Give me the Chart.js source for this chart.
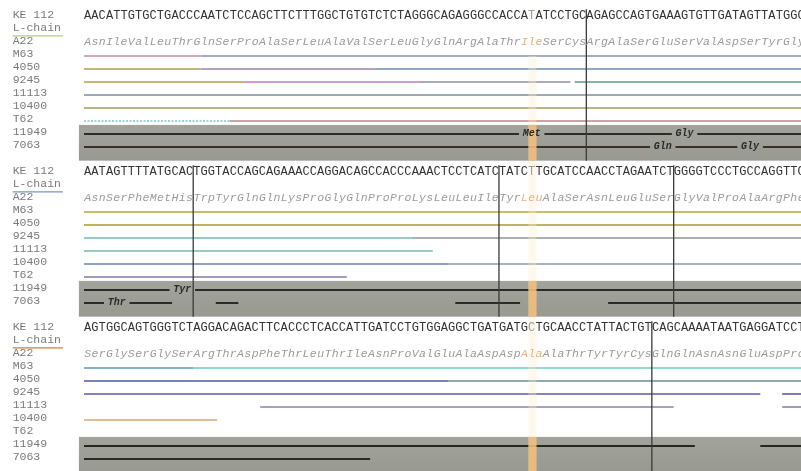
<!DOCTYPE html>
<html><head><meta charset="utf-8">
<script src="https://cdn.jsdelivr.net/npm/chart.js@4"></script>
<style>html,body{margin:0;padding:0;background:#fff}canvas{display:block}</style>
</head><body>
<canvas id="c" width="801" height="471"></canvas>
<script>
// ---------- DATA ----------
const rowNames = ['KE 112','L-chain','A22','M63','4050','9245','11113','10400','T62','11949','7063'];
const lineRows = ['M63','4050','9245','11113','10400','T62','11949','7063'];
const nucleotides = [
  'AACATTGTGCTGACCCAATCTCCAGCTTCTTTGGCTGTGTCTCTAGGGCAGAGGGCCACCATATCCTGCAGAGCCAGTGAAAGTGTTGATAGTTATGGC',
  'AATAGTTTTATGCACTGGTACCAGCAGAAACCAGGACAGCCACCCAAACTCCTCATCTATCTTGCATCCAACCTAGAATCTGGGGTCCCTGCCAGGTTC',
  'AGTGGCAGTGGGTCTAGGACAGACTTCACCCTCACCATTGATCCTGTGGAGGCTGATGATGCTGCAACCTATTACTGTCAGCAAAATAATGAGGATCCT'
];
const aminoAcids = [
  ['Asn','Ile','Val','Leu','Thr','Gln','Ser','Pro','Ala','Ser','Leu','Ala','Val','Ser','Leu','Gly','Gln','Arg','Ala','Thr','Ile','Ser','Cys','Arg','Ala','Ser','Glu','Ser','Val','Asp','Ser','Tyr','Gly'],
  ['Asn','Ser','Phe','Met','His','Trp','Tyr','Gln','Gln','Lys','Pro','Gly','Gln','Pro','Pro','Lys','Leu','Leu','Ile','Tyr','Leu','Ala','Ser','Asn','Leu','Glu','Ser','Gly','Val','Pro','Ala','Arg','Phe'],
  ['Ser','Gly','Ser','Gly','Ser','Arg','Thr','Asp','Phe','Thr','Leu','Thr','Ile','Asn','Pro','Val','Glu','Ala','Asp','Asp','Ala','Ala','Thr','Tyr','Tyr','Cys','Gln','Gln','Asn','Asn','Glu','Asp','Pro']
];
const highlightResidue = 20;        // residue index of the orange column
const highlightBase = 61;           // nucleotide index of the orange column
const blockRowStart = [0, 12, 24];  // first row of each block
// boundaries (nucleotide index) marked by vertical rules
const boundaries = [[69], [15, 57, 81], [78]];
// sequence coverage of each line row, in nucleotide positions
const coverage = [
  [ [[0,99]], [[0,99]], [[0,66.8],[67.4,99]], [[0,99]], [[0,99]], [[0,99]], [[0,99]], [[0,99]] ],
  [ [[0,99]], [[0,99]], [[0,99]], [[0,47.9]], [[0,99]], [[0,36.1]], [[0,99]], [[0,12.1],[18.1,21.2],[51.0,59.9],[72.0,99]] ],
  [ [[0,99]], [[0,99]], [[0,92.9],[95.9,99]], [[24.2,81.0],[95.9,99]], [[0,18.3]], [], [[0,83.9],[92.9,99]], [[0,39.3]] ]
];
// replacement residues: [block, row name, residue index, residue]
const mutations = [
  [0,'11949',20,'Met'], [0,'11949',27,'Gly'], [0,'7063',26,'Gln'], [0,'7063',30,'Gly'],
  [1,'11949',4,'Tyr'], [1,'7063',1,'Thr']
];

// ---------- STYLES ----------
const lineColors = [
  [ [[0,'#c98a9c'],[16,'#8396b4']], [[0,'#a8a050'],[16,'#9a86b0'],[40,'#6e8cb0']],
    [[0,'#b0a048'],[22,'#c67ab8'],[46,'#8e8ea0'],[67,'#5f9a8a']], [[0,'#7f8c9e']],
    [[0,'#a09e62']], [[0,'#80c4cc',true],[20,'#b88a8a']], [[0,'#2c2c2a']], [[0,'#3a3028']] ],
  [ [[0,'#b4a838']], [[0,'#a69a30']], [[0,'#74b4b4'],[45,'#8e9a8a']], [[0,'#78b8a8']],
    [[0,'#6a84b8'],[50,'#8a98a8']], [[0,'#8278aa']], [[0,'#2a2a28']], [[0,'#2a2a28']] ],
  [ [[0,'#5a9aa8'],[15,'#70c8b4']], [[0,'#5058a0'],[50,'#6a8c94']], [[0,'#5a5aa0']], [[0,'#8a80a8']],
    [[0,'#d4aa78']], [[0,'#888']], [[0,'#262622']], [[0,'#2a2a26']] ]
];
const underlineColors = ['#b4cc84','#7c94c0','#c0804a'];
const grayTop = 8.3, grayBottom = 11.05;

// ---------- BUILD DATASETS ----------
const datasets = [];
function cut(intervals, gaps){
  let res = intervals.map(a=>a.slice());
  gaps.forEach(([g0,g1])=>{
    const out=[];
    res.forEach(([a,b])=>{
      if (g1<=a || g0>=b) { out.push([a,b]); return; }
      if (g0>a) out.push([a,g0]);
      if (g1<b) out.push([g1,b]);
    });
    res=out;
  });
  return res;
}
coverage.forEach((blk, b) => {
  blk.forEach((ivs, r) => {
    const name = lineRows[r];
    const y = blockRowStart[b] + 3 + r;
    const gaps = mutations.filter(m=>m[0]===b && m[1]===name).map(m=>[3*m[2]+1.5-1.75, 3*m[2]+1.5+1.75]);
    const pieces = cut(ivs, gaps);
    const stops = lineColors[b][r];
    const dark = r >= 6;
    pieces.forEach(([a,e])=>{
      stops.forEach((s,k)=>{
        const s0 = s[0], s1 = k+1<stops.length ? stops[k+1][0] : 1000;
        const lo = Math.max(a,s0), hi = Math.min(e,s1);
        if (hi>lo) datasets.push({
          data:[{x:lo,y},{x:hi,y}], showLine:true, borderColor:s[1],
          borderWidth: dark?2:1.6, pointRadius:0, borderDash: s[2]?[2,1.5]:[], order:2
        });
      });
    });
  });
});
boundaries.forEach((bs,b)=>{
  bs.forEach(pos=>{
    const y0 = blockRowStart[b]-0.6, y1 = b===2 ? 40 : blockRowStart[b]+grayBottom;
    datasets.push({data:[{x:pos,y:y0},{x:pos,y:y1}], showLine:true, borderColor:'#3a3a3a', borderWidth:1.3, pointRadius:0, order:1});
  });
});

// ---------- DECORATION PLUGIN ----------
const deco = {
  id:'deco',
  beforeDatasetsDraw(chart){
    const {ctx, scales:{x,y}, chartArea} = chart;
    ctx.save();
    blockRowStart.forEach(b0=>{
      const top = y.getPixelForValue(b0+grayTop), bot = Math.min(y.getPixelForValue(b0+grayBottom), chartArea.bottom);
      const g = ctx.createLinearGradient(0,top,0,bot);
      g.addColorStop(0,'#a2a49c'); g.addColorStop(1,'#989a92');
      ctx.fillStyle = g;
      ctx.fillRect(x.getPixelForValue(-0.7), top, chartArea.right - x.getPixelForValue(-0.7), bot-top);
    });
    ctx.restore();
  },
  afterDatasetsDraw(chart){
    const {ctx, scales:{x,y}, chartArea} = chart;
    ctx.save();
    // orange column
    const ox0 = x.getPixelForValue(highlightBase+0.05), ox1 = x.getPixelForValue(highlightBase+1.15);
    ctx.fillStyle = 'rgba(255,236,210,0.35)';
    ctx.fillRect(ox0, y.getPixelForValue(3), ox1-ox0, chartArea.bottom);
    blockRowStart.forEach(b0=>{
      const top = y.getPixelForValue(b0+grayTop), bot = Math.min(y.getPixelForValue(b0+grayBottom), chartArea.bottom);
      ctx.fillStyle = 'rgba(244,188,118,0.8)';
      ctx.fillRect(ox0, top, ox1-ox0, bot-top);
    });
    // texts
    ctx.textBaseline = 'middle';
    blockRowStart.forEach((b0,b)=>{
      // row labels
      ctx.font = '11.5px "Liberation Mono", monospace';
      ctx.textAlign = 'left';
      rowNames.forEach((n,r)=>{
        ctx.fillStyle = '#7a7a7a';
        ctx.fillText(n, x.getPixelForValue(-9.8), y.getPixelForValue(b0+r-0.12));
      });
      // underline of L-chain
      ctx.strokeStyle = underlineColors[b]; ctx.lineWidth = 1.3;
      const uy = y.getPixelForValue(b0+1.45);
      ctx.beginPath(); ctx.moveTo(x.getPixelForValue(-9.8), uy); ctx.lineTo(x.getPixelForValue(-2.9), uy); ctx.stroke();
      // nucleotides
      ctx.textAlign = 'center';
      ctx.font = '12px "Liberation Mono", monospace';
      const seq = nucleotides[b];
      for (let i=0;i<seq.length;i++){
        ctx.fillStyle = i===highlightBase ? '#a89a88' : '#333';
        ctx.fillText(seq[i], x.getPixelForValue(i+0.5), y.getPixelForValue(b0-0.08));
      }
      // amino acids
      ctx.font = 'italic 11.5px "Liberation Mono", monospace';
      aminoAcids[b].forEach((aa,k)=>{
        ctx.fillStyle = k===highlightResidue ? '#e6b27a' : '#9a9a9a';
        for (let j=0;j<3;j++) ctx.fillText(aa[j], x.getPixelForValue(3*k+j+0.5), y.getPixelForValue(b0+2-0.05));
      });
      // replacement residues
      ctx.font = 'italic bold 10px "Liberation Mono", monospace';
      ctx.fillStyle = '#2a2a2a';
      mutations.filter(m=>m[0]===b).forEach(m=>{
        const r = lineRows.indexOf(m[1]);
        ctx.fillText(m[3], x.getPixelForValue(3*m[2]+1.5), y.getPixelForValue(b0+3+r-0.05));
      });
    });
    ctx.restore();
  }
};

new Chart(document.getElementById('c'), {
  type:'scatter',
  data:{datasets},
  options:{
    responsive:false, animation:false, devicePixelRatio:1,
    layout:{padding:0},
    plugins:{legend:{display:false}, tooltip:{enabled:false}},
    scales:{
      x:{type:'linear', display:false, min:-84/7.28, max:(801-84)/7.28},
      y:{type:'linear', display:false, reverse:true, min:-17/13, max:(471-17)/13}
    }
  },
  plugins:[deco]
});
</script>
</body></html>
